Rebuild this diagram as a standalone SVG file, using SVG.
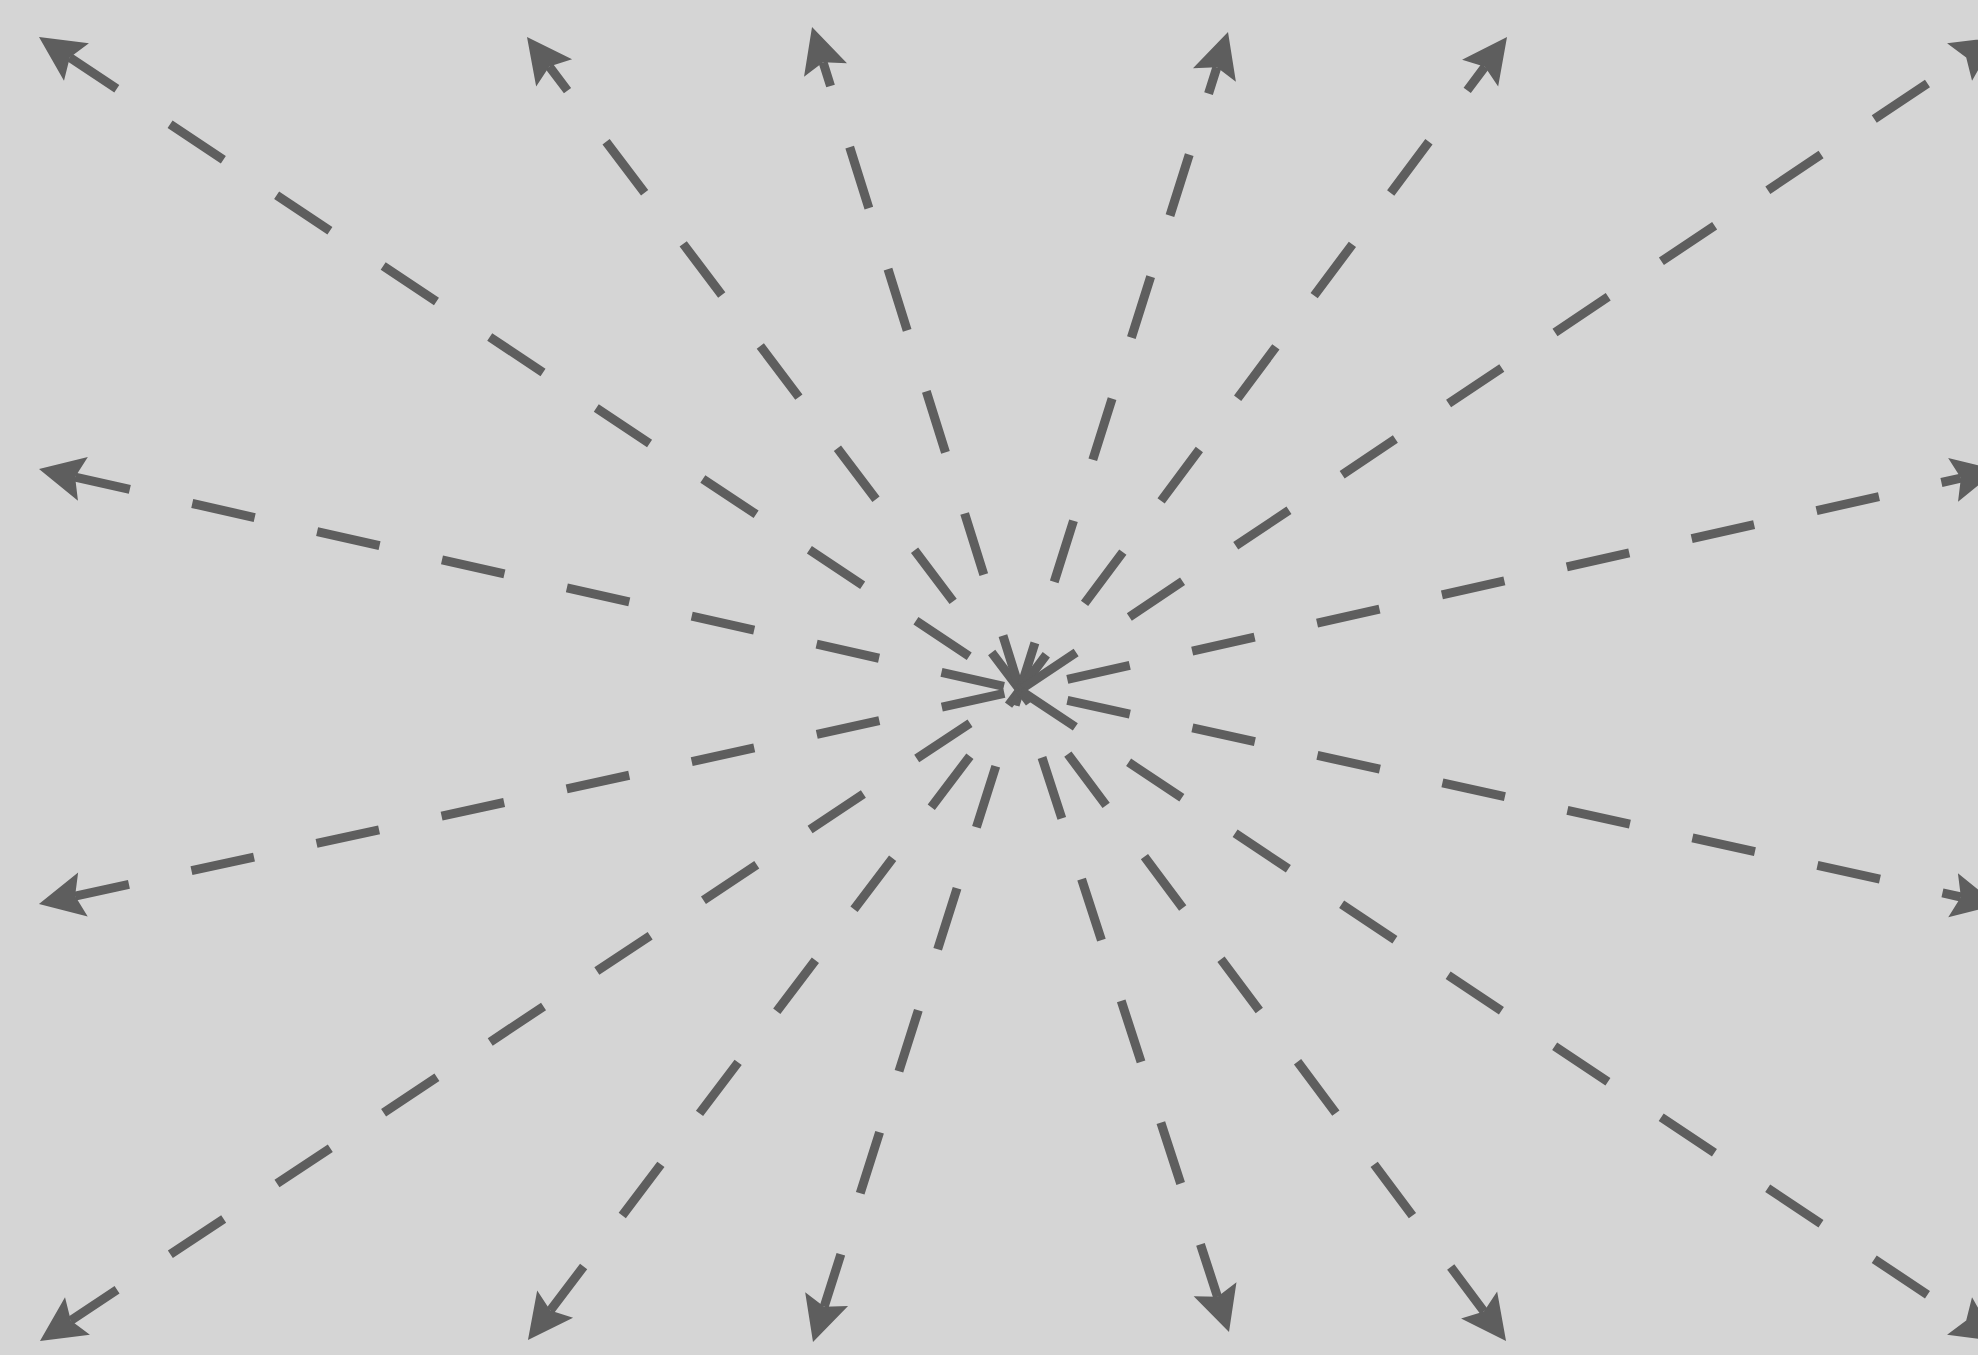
<svg xmlns="http://www.w3.org/2000/svg" width="1978" height="1355" viewBox="0 0 1978 1355">
<style>
.e{fill:none;stroke:#5e5e5e;stroke-width:9;stroke-dasharray:64 64;marker-end:url(#ah)}
</style>
<defs>
<marker id="ah" viewBox="-10 -25 50 50" refX="0" refY="0" markerWidth="50" markerHeight="50" markerUnits="userSpaceOnUse" orient="auto">
<path d="M37,0 L-8,-22.5 L0,0 L-8,22.5 Z" fill="#5e5e5e"/>
</marker>
</defs>
<rect width="1978" height="1355" fill="#d5d5d5"/>
<g id="connectors">
<path class="e" style="stroke-dashoffset:67" d="M1020,690 L69.8,57.5"/>
<path class="e" style="stroke-dashoffset:17" d="M1020,690 L549.3,66.5"/>
<path class="e" style="stroke-dashoffset:7" d="M1020,690 L823.1,62.3"/>
<path class="e" style="stroke-dashoffset:14.5" d="M1020,690 L1216.85,67.3"/>
<path class="e" style="stroke-dashoffset:20" d="M1020,690 L1484.9,66.7"/>
<path class="e" style="stroke-dashoffset:124.5" d="M1020,690 L1966.2,57.6"/>
<path class="e" style="stroke-dashoffset:111.5" d="M1020,690 L75.1,477.1"/>
<path class="e" style="stroke-dashoffset:112" d="M1020,690 L75.1,896.1"/>
<path class="e" style="stroke-dashoffset:79.5" d="M1020,690 L1960.9,478.1"/>
<path class="e" style="stroke-dashoffset:79.5" d="M1020,690 L1960.9,897"/>
<path class="e" style="stroke-dashoffset:68" d="M1020,690 L70.8,1320.5"/>
<path class="e" style="stroke-dashoffset:45" d="M1020,690 L550.3,1310.5"/>
<path class="e" style="stroke-dashoffset:48" d="M1020,690 L824.2,1306.7"/>
<path class="e" style="stroke-dashoffset:57" d="M1020,690 L1217.55,1296.8"/>
<path class="e" style="stroke-dashoffset:48" d="M1020,690 L1483.9,1311.4"/>
<path class="e" style="stroke-dashoffset:125.5" d="M1020,690 L1966.2,1320.5"/>
</g>
</svg>
